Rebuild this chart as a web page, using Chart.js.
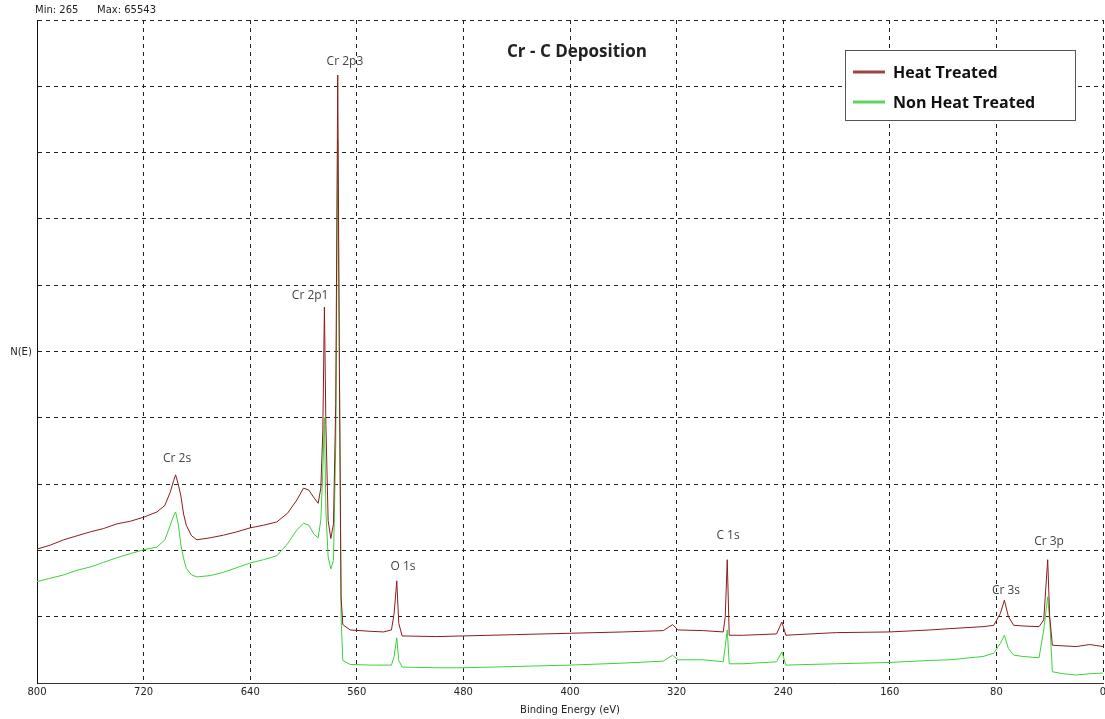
<!DOCTYPE html>
<html>
<head>
<meta charset="utf-8">
<script src="https://cdn.jsdelivr.net/npm/chart.js@4.4.1/dist/chart.umd.min.js"></script>
<style>
  body { margin: 0; background: #fff; }
  #wrap { width: 1105px; height: 719px; }
</style>
</head>
<body>
<div id="wrap"><canvas id="plot1" width="1105" height="719"></canvas></div>
<script>
// binding energy (eV), shared by both spectra
var energies = [
  800, 790, 780, 770, 760, 750, 740, 730, 720, 710, 704, 700, 697.5, 696, 694, 692, 690, 688, 684, 680,
  670, 660, 650, 640, 630, 620, 612, 605, 600, 596, 592, 589, 587, 585.5, 584.3, 583.2, 581.5, 579.5, 577.5, 575.8,
  574.3, 573, 571.8, 570.5, 565, 550, 540, 534, 532, 530, 528.5, 526, 500, 480, 440, 400, 360, 330, 323, 319,
  300, 285, 283.5, 282, 280.5, 270, 245, 241, 238, 220, 200, 160, 130, 115, 90, 82, 77, 74, 71, 67,
  60, 48, 44.5, 41.5, 40, 38, 30, 20, 10, 0
];
// N(E), in grid units (0..10)
var heatTreated = [
  2.02, 2.08, 2.16, 2.22, 2.28, 2.33, 2.40, 2.44, 2.50, 2.58, 2.68, 2.88, 3.05, 3.14, 3.00, 2.82, 2.55, 2.38, 2.22, 2.16,
  2.19, 2.23, 2.28, 2.34, 2.38, 2.43, 2.56, 2.76, 2.94, 2.91, 2.79, 2.71, 2.94, 3.8, 5.67, 3.9, 2.45, 2.18, 2.40, 4.2,
  9.17, 4.5, 1.3, 0.88, 0.80, 0.78, 0.77, 0.80, 1.05, 1.54, 0.90, 0.71, 0.70, 0.71, 0.73, 0.75, 0.77, 0.79, 0.88, 0.80,
  0.79, 0.77, 1.0, 1.86, 0.72, 0.72, 0.74, 0.92, 0.72, 0.74, 0.76, 0.77, 0.80, 0.82, 0.85, 0.87, 1.05, 1.25, 1.0, 0.87,
  0.86, 0.85, 0.95, 1.86, 1.0, 0.57, 0.56, 0.55, 0.58, 0.55
];
var nonHeatTreated = [
  1.53, 1.58, 1.63, 1.70, 1.75, 1.82, 1.89, 1.95, 2.01, 2.05, 2.16, 2.38, 2.52, 2.58, 2.40, 2.08, 1.88, 1.73, 1.63, 1.60,
  1.62, 1.67, 1.74, 1.81, 1.86, 1.92, 2.10, 2.31, 2.41, 2.38, 2.24, 2.19, 2.46, 3.2, 4.0, 2.6, 1.9, 1.72, 1.85, 3.6,
  8.2, 4.8, 1.0, 0.34, 0.28, 0.27, 0.27, 0.27, 0.40, 0.68, 0.34, 0.24, 0.23, 0.23, 0.25, 0.27, 0.30, 0.33, 0.42, 0.35,
  0.35, 0.32, 0.55, 0.80, 0.29, 0.29, 0.32, 0.47, 0.27, 0.28, 0.29, 0.31, 0.34, 0.35, 0.40, 0.45, 0.60, 0.72, 0.52, 0.42,
  0.40, 0.38, 0.80, 1.30, 0.95, 0.17, 0.14, 0.12, 0.14, 0.15
];
var xTicks = [800, 720, 640, 560, 480, 400, 320, 240, 160, 80, 0];

// peak names with the energy / level where the label sits
var peakNames = ['Cr 2p3', 'Cr 2p1', 'Cr 2s', 'O 1s', 'C 1s', 'Cr 3s', 'Cr 3p'];
var peakEnergies = [568.9, 595, 694.9, 525.3, 281.4, 72.8, 40.5];
var peakLevels = [9.37, 5.84, 3.38, 1.75, 2.23, 1.40, 2.14];

var minCount = 265;
var maxCount = 65543;

var extras = {
  id: 'extras',
  afterDraw: function (chart) {
    var ctx = chart.ctx;
    var xs = chart.scales.x, ys = chart.scales.y;
    var area = chart.chartArea;
    ctx.save();

    // peak labels
    ctx.font = '12px "Open Sans"';
    ctx.fillStyle = '#444';
    ctx.textAlign = 'center';
    ctx.textBaseline = 'middle';
    peakNames.forEach(function (name, i) {
      ctx.fillText(name, xs.getPixelForValue(peakEnergies[i]), ys.getPixelForValue(peakLevels[i]));
    });

    // title
    ctx.font = 'bold 17px "Open Sans"';
    ctx.fillStyle = '#222';
    ctx.fillText('Cr - C Deposition', 577, area.top + 32);

    // legend box
    var lx = area.right - 258, ly = area.top + 30, lw = 230, lh = 70;
    ctx.fillStyle = '#fff';
    ctx.fillRect(lx, ly, lw, lh);
    ctx.strokeStyle = '#555';
    ctx.lineWidth = 1;
    ctx.strokeRect(lx + 0.5, ly + 0.5, lw, lh);
    ctx.textAlign = 'left';
    ctx.font = 'bold 16px "Open Sans"';
    chart.data.datasets.forEach(function (ds, i) {
      var yy = ly + 22 + i * 30;
      ctx.strokeStyle = ds.legendColor;
      ctx.lineWidth = 3;
      ctx.beginPath();
      ctx.moveTo(lx + 8, yy);
      ctx.lineTo(lx + 40, yy);
      ctx.stroke();
      ctx.fillStyle = '#111';
      ctx.fillText(ds.label, lx + 48, yy + 1);
    });

    // header counts and y label
    ctx.font = '10px "DejaVu Sans"';
    ctx.fillStyle = '#222';
    ctx.fillText('Min: ' + minCount, 35, 10);
    ctx.fillText('Max: ' + maxCount, 97, 10);
    ctx.textAlign = 'center';
    ctx.fillText('N(E)', 21, (area.top + area.bottom) / 2 + 1);
    ctx.restore();
  }
};

var chart = new Chart(document.getElementById('plot1'), {
  type: 'line',
  data: {
    datasets: [
      {
        label: 'Heat Treated',
        data: energies.map((e, i) => ({ x: e, y: heatTreated[i] })),
        borderColor: '#8e1b1b',
        legendColor: '#9a4646',
        borderWidth: 1,
        pointRadius: 0,
        tension: 0,
      },
      {
        label: 'Non Heat Treated',
        data: energies.map((e, i) => ({ x: e, y: nonHeatTreated[i] })),
        borderColor: '#3ad23a',
        legendColor: '#5fd35f',
        borderWidth: 1,
        pointRadius: 0,
        tension: 0,
      },
    ],
  },
  options: {
    responsive: false,
    animation: false,
    devicePixelRatio: 1,
    layout: { padding: { top: 20, right: 2, left: 0, bottom: 0 }, autoPadding: false },
    plugins: { legend: { display: false }, tooltip: { enabled: false } },
    scales: {
      x: {
        type: 'linear',
        reverse: true,
        min: 0,
        max: 800,
        afterBuildTicks: function (scale) {
          scale.ticks = xTicks.map((v) => ({ value: v }));
        },
        afterFit: function (scale) {
          scale.height = 36;
          scale.paddingLeft = 0;
          scale.paddingRight = 0;
        },
        ticks: { font: { family: 'DejaVu Sans', size: 10 }, color: '#222', padding: 3, maxRotation: 0 },
        grid: { color: '#222', lineWidth: 1, drawTicks: false },
        border: { color: '#333', width: 1, dash: [4, 4] },
        title: {
          display: true,
          text: 'Binding Energy (eV)',
          font: { family: 'DejaVu Sans', size: 10 },
          color: '#222',
          padding: { top: 2, bottom: 3 },
        },
      },
      y: {
        type: 'linear',
        min: 0,
        max: 10,
        ticks: { display: false, stepSize: 1 },
        afterFit: function (scale) { scale.width = 37; },
        grid: { color: '#222', lineWidth: 1, drawTicks: false },
        border: { color: '#111', width: 1, dash: [4, 4] },
      },
    },
  },
  plugins: [extras],
});
</script>
</body>
</html>
